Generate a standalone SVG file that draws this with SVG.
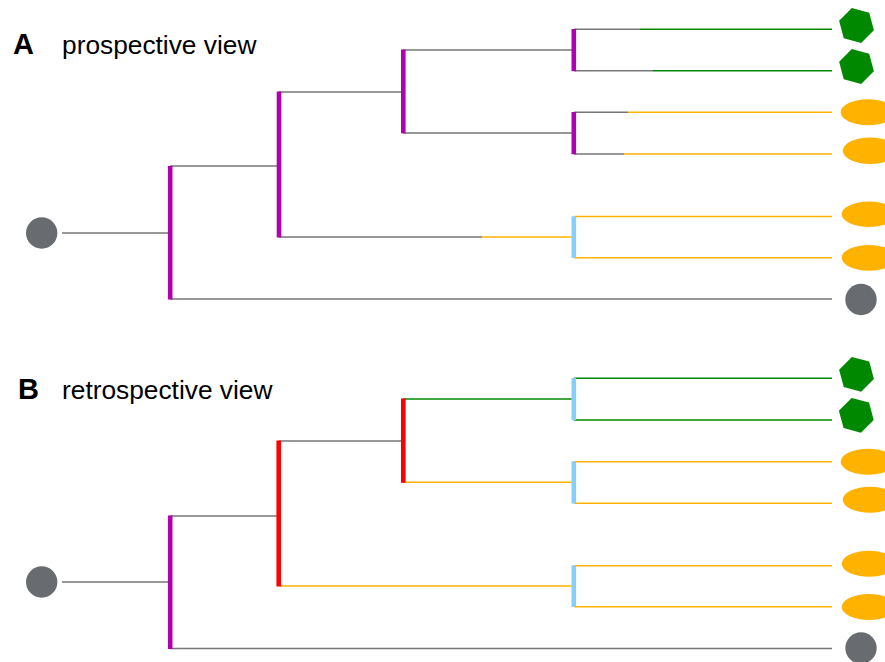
<svg xmlns="http://www.w3.org/2000/svg" xmlns:xlink="http://www.w3.org/1999/xlink" width="885" height="662" viewBox="0 0 885 662">
<style>
  .lbl { font-family: "Liberation Sans", Arial, sans-serif; font-weight: bold; font-size: 29px; fill: #000; }
  .ttl { font-family: "Liberation Sans", Arial, sans-serif; font-size: 26.3px; fill: #000; }
  .g { stroke: #767676; stroke-width: 1.4; fill: none; }
  .gn { stroke: #008800; stroke-width: 1.4; fill: none; }
  .y { stroke: #ffb300; stroke-width: 1.4; fill: none; }
  .bp { stroke: #b000b0; stroke-width: 4.6; }
  .br { stroke: #ff0000; stroke-width: 4.6; }
  .bb { stroke: #87cefa; stroke-width: 4.6; }
  .gc { fill: #686c70; }
  .hx { fill: #008800; }
  .el { fill: #ffb300; }
</style>
<defs>
  <polygon id="hex" points="-4.66,-17.39 12.73,-12.73 17.39,4.66 4.66,17.39 -12.73,12.73 -17.39,-4.66"/>
</defs>

<g id="title-A">
  <text class="lbl" x="13" y="54">A</text>
  <text class="ttl" x="62" y="54">prospective view</text>
</g>
<g id="title-B">
  <text class="lbl" x="18" y="398.5">B</text>
  <text class="ttl" x="62" y="398.5">retrospective view</text>
</g>

<g id="connectors">
  <!-- Panel A -->
  <line class="g" x1="62" y1="233" x2="170" y2="233"/>
  <line class="g" x1="170" y1="166" x2="279" y2="166"/>
  <line class="g" x1="170" y1="299" x2="832" y2="299"/>
  <line class="g" x1="279" y1="92" x2="403" y2="92"/>
  <line class="g" x1="279" y1="237" x2="482" y2="237"/>
  <line class="y" x1="482" y1="237" x2="574" y2="237"/>
  <line class="g" x1="403" y1="50" x2="574" y2="50"/>
  <line class="g" x1="403" y1="133" x2="574" y2="133"/>
  <line class="g" x1="574" y1="29.3" x2="640" y2="29.3"/>
  <line class="gn" x1="640" y1="29.3" x2="832" y2="29.3"/>
  <line class="g" x1="574" y1="70.8" x2="653" y2="70.8"/>
  <line class="gn" x1="653" y1="70.8" x2="832" y2="70.8"/>
  <line class="g" x1="574" y1="112.3" x2="628" y2="112.3"/>
  <line class="y" x1="628" y1="112.3" x2="832" y2="112.3"/>
  <line class="g" x1="574" y1="154" x2="624" y2="154"/>
  <line class="y" x1="624" y1="154" x2="832" y2="154"/>
  <line class="y" x1="574" y1="216.5" x2="832" y2="216.5"/>
  <line class="y" x1="574" y1="257.8" x2="832" y2="257.8"/>
  <line class="bp" x1="170.2" y1="166" x2="170.2" y2="299.5"/>
  <line class="bp" x1="279" y1="91.5" x2="279" y2="237.5"/>
  <line class="bp" x1="403.3" y1="49.5" x2="403.3" y2="133.3"/>
  <line class="bp" x1="573.8" y1="29" x2="573.8" y2="71.2"/>
  <line class="bp" x1="573.8" y1="112" x2="573.8" y2="154.3"/>
  <line class="bb" x1="573.8" y1="216.3" x2="573.8" y2="258"/>

  <!-- Panel B -->
  <line class="g" x1="62" y1="582" x2="170" y2="582"/>
  <line class="g" x1="170" y1="516" x2="279" y2="516"/>
  <line class="g" x1="170" y1="648.5" x2="832" y2="648.5"/>
  <line class="g" x1="279" y1="441" x2="403" y2="441"/>
  <line class="y" x1="279" y1="586" x2="574" y2="586"/>
  <line class="gn" x1="403" y1="399" x2="574" y2="399"/>
  <line class="y" x1="403" y1="482.3" x2="574" y2="482.3"/>
  <line class="gn" x1="574" y1="378.3" x2="832" y2="378.3"/>
  <line class="gn" x1="574" y1="420" x2="832" y2="420"/>
  <line class="y" x1="574" y1="461.7" x2="832" y2="461.7"/>
  <line class="y" x1="574" y1="503.3" x2="832" y2="503.3"/>
  <line class="y" x1="574" y1="565.7" x2="832" y2="565.7"/>
  <line class="y" x1="574" y1="606.8" x2="832" y2="606.8"/>
  <line class="bp" x1="170.2" y1="515.5" x2="170.2" y2="649"/>
  <line class="br" x1="278.7" y1="440.5" x2="278.7" y2="586.5"/>
  <line class="br" x1="403.3" y1="398.5" x2="403.3" y2="482.8"/>
  <line class="bb" x1="573.8" y1="378" x2="573.8" y2="420.3"/>
  <line class="bb" x1="573.8" y1="461.4" x2="573.8" y2="503.6"/>
  <line class="bb" x1="573.8" y1="565.4" x2="573.8" y2="607"/>
</g>

<!-- Panel A nodes -->
<g id="A-root"><circle class="gc" cx="41.7" cy="233" r="15.7"/></g>
<g id="A-tip1"><use xlink:href="#hex" href="#hex" class="hx" transform="translate(856.5,25.5)"/></g>
<g id="A-tip2"><use xlink:href="#hex" href="#hex" class="hx" transform="translate(856.5,66.5)"/></g>
<g id="A-tip3"><ellipse class="el" cx="868" cy="112.3" rx="27.3" ry="13"/></g>
<g id="A-tip4"><ellipse class="el" cx="870" cy="150.7" rx="27.3" ry="13.2"/></g>
<g id="A-tip5"><ellipse class="el" cx="869" cy="214.2" rx="27.3" ry="12.7"/></g>
<g id="A-tip6"><ellipse class="el" cx="869" cy="257.8" rx="27.3" ry="12.9"/></g>
<g id="A-tip7"><circle class="gc" cx="861" cy="299.5" r="15.7"/></g>

<!-- Panel B nodes -->
<g id="B-root"><circle class="gc" cx="41.7" cy="582" r="15.7"/></g>
<g id="B-tip1"><use xlink:href="#hex" href="#hex" class="hx" transform="translate(856.5,374.3)"/></g>
<g id="B-tip2"><use xlink:href="#hex" href="#hex" class="hx" transform="translate(856.3,415.3)"/></g>
<g id="B-tip3"><ellipse class="el" cx="868" cy="461.8" rx="27.3" ry="13"/></g>
<g id="B-tip4"><ellipse class="el" cx="870" cy="499.7" rx="27.3" ry="13"/></g>
<g id="B-tip5"><ellipse class="el" cx="869" cy="563.7" rx="27.3" ry="13"/></g>
<g id="B-tip6"><ellipse class="el" cx="869" cy="607" rx="27.3" ry="13"/></g>
<g id="B-tip7"><circle class="gc" cx="861" cy="648" r="15.7"/></g>
</svg>
